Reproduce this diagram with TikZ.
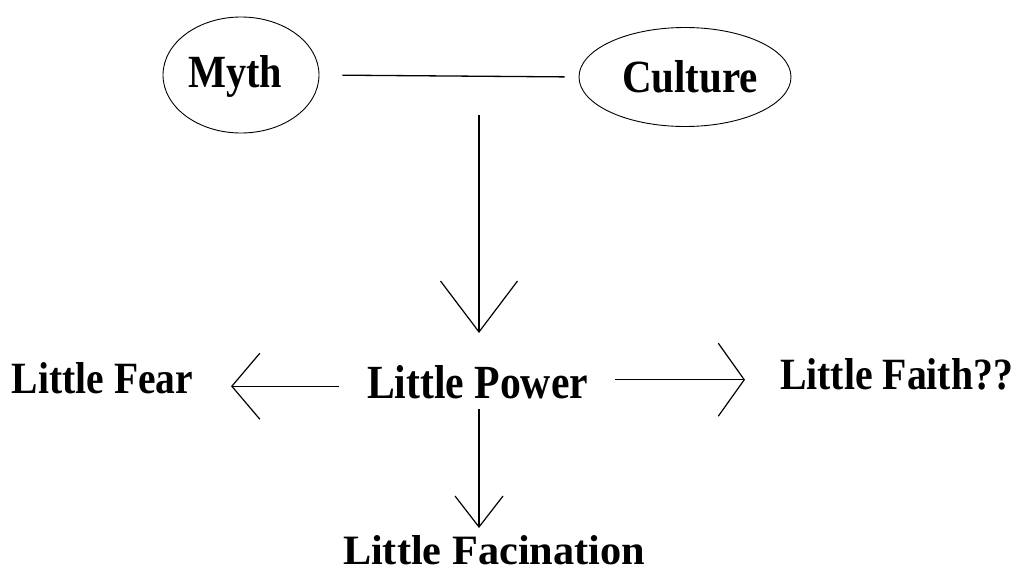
\documentclass[tikz,border=0pt]{standalone}
\usepackage{fontspec}
\setmainfont{Liberation Serif}
\usetikzlibrary{shapes.geometric,arrows.meta}
\newcommand\fitt[3]{\resizebox{#1}{#2}{\bfseries #3}}
\tikzset{
  lbl/.style={inner sep=0pt,outer sep=0pt,anchor=base west},
  oval/.style={draw,ellipse,line width=0.9pt,inner sep=0pt},
  conn/.style={line width=1.3pt},
}
\begin{document}
\begin{tikzpicture}[x=1pt,y=-1pt]
\useasboundingbox[fill=white] (0,0) rectangle (1021,573);
% ovals
\node[oval,minimum width=156pt,minimum height=116pt] (mythE) at (241,75) {};
\node[oval,minimum width=212pt,minimum height=99pt] (cultE) at (685,77) {};
% labels
\node[lbl] (myth) at (188,87) {\fitt{94pt}{32pt}{Myth}};
\node[lbl] (culture) at (622,92) {\fitt{136pt}{32pt}{Culture}};
\node[lbl] (fear) at (12,393) {\fitt{181pt}{31pt}{Little Fear}};
\node[lbl] (faith) at (780,389) {\fitt{233pt}{31pt}{Little Faith??}};
\node[lbl] (power) at (367,398) {\fitt{221pt}{33pt}{Little Power}};
\node[lbl] (facin) at (343,564) {\fitt{302pt}{29pt}{Little Facination}};
\coordinate (j) at (479,115);
% connectors
\draw[conn,shorten <=23pt,shorten >=14pt] (mythE.east) -- (cultE.west);
\draw[conn,-{Straight Barb[length=51pt,width=77pt,line width=1.2pt]},shorten >=32pt] (j) -- (j |- power.north);
\draw[conn,-{Straight Barb[length=28pt,width=66pt,line width=1.2pt]},shorten <=28pt,shorten >=38pt] ([yshift=-4.5pt]power.west) -- ([yshift=-4.5pt]power.west -| fear.east);
\draw[conn,-{Straight Barb[length=26pt,width=73pt,line width=1.2pt]},shorten <=27pt,shorten >=35pt] ([yshift=2pt]power.east) -- ([yshift=2pt]power.east -| faith.west);
\draw[conn,-{Straight Barb[length=31pt,width=48pt,line width=1.2pt]},shorten <=11pt,shorten >=7pt] ([xshift=1.5pt]power.south) -- ([xshift=1.5pt]power.south |- facin.north);
\end{tikzpicture}
\end{document}
